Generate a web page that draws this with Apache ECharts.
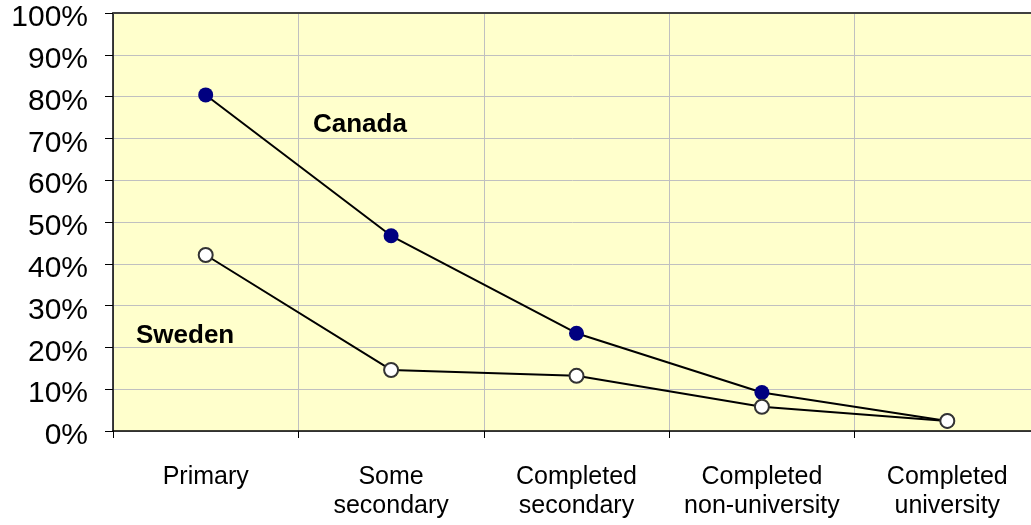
<!DOCTYPE html>
<html>
<head>
<meta charset="utf-8">
<script src="https://cdn.jsdelivr.net/npm/echarts@6/dist/echarts.min.js"></script>
<style>html,body{margin:0;padding:0;background:#fff;overflow:hidden;}#c{width:1031px;height:525px;}</style>
</head>
<body>
<div id="c"></div>
<script>
const categories = ['Primary', 'Some\nsecondary', 'Completed\nsecondary', 'Completed\nnon-university', 'Completed\nuniversity'];
const canada = [80.4, 46.7, 23.4, 9.2, 2.4];
const sweden = [42.1, 14.6, 13.2, 5.8, 2.4];
const yTicks = [0, 10, 20, 30, 40, 50, 60, 70, 80, 90, 100];

const chart = echarts.init(document.getElementById('c'), null, {renderer: 'canvas'});
const font = 'Arial, "Liberation Sans", sans-serif';
chart.setOption({
  animation: false,
  backgroundColor: '#ffffff',
  grid: {
    left: 113, top: 13, width: 927, height: 418,
    outerBoundsMode: 'none', containLabel: false,
    show: true, backgroundColor: '#FFFFCC', borderWidth: 0
  },
  xAxis: [
    {
      type: 'category',
      data: categories,
      boundaryGap: true,
      axisLine: {lineStyle: {color: '#000', width: 1.5}},
      axisTick: {show: true, length: 7, lineStyle: {color: '#000'}, alignWithLabel: false, interval: 0},
      splitLine: {show: true, interval: 0, lineStyle: {color: '#C0C0C0', width: 1}},
      axisLabel: {interval: 0, color: '#000', fontFamily: font, fontSize: 25, lineHeight: 29.5, margin: 31}
    },
    {
      type: 'category',
      data: categories,
      position: 'top',
      axisLine: {show: true, lineStyle: {color: '#404040', width: 2}},
      axisTick: {show: false},
      axisLabel: {show: false},
      splitLine: {show: false}
    }
  ],
  yAxis: {
    type: 'value',
    min: yTicks[0], max: yTicks[yTicks.length - 1], interval: 10,
    axisLine: {show: true, lineStyle: {color: '#000', width: 1.5}},
    axisTick: {show: true, length: 8, lineStyle: {color: '#000'}},
    splitLine: {show: true, lineStyle: {color: '#C0C0C0', width: 1}},
    axisLabel: {color: '#000', fontFamily: font, fontSize: 30, margin: 25, verticalAlign: 'top', lineHeight: 10, formatter: v => v + '%'}
  },
  series: [
    {
      name: 'Sweden', type: 'line', data: sweden,
      symbol: 'circle', symbolSize: 14,
      lineStyle: {color: '#000', width: 2},
      itemStyle: {color: '#ffffff', borderColor: '#333333', borderWidth: 2},
      z: 3
    },
    {
      name: 'Canada', type: 'line', data: canada,
      symbol: 'circle', symbolSize: 15,
      lineStyle: {color: '#000', width: 2},
      itemStyle: {color: '#000080', borderWidth: 0},
      z: 2
    }
  ],
  graphic: [
    {type: 'text', left: 313, top: 112, style: {text: 'Canada', font: 'bold 26px ' + font, fill: '#000'}},
    {type: 'text', left: 136, top: 323, style: {text: 'Sweden', font: 'bold 26px ' + font, fill: '#000'}}
  ]
});
</script>
</body>
</html>
